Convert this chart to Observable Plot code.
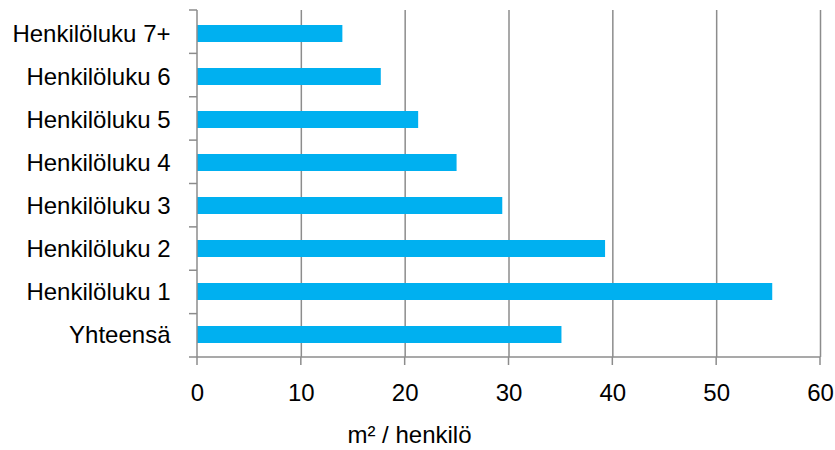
<!DOCTYPE html>
<html><head><meta charset="utf-8">
<script src="https://cdn.jsdelivr.net/npm/d3@7"></script>
<script src="https://cdn.jsdelivr.net/npm/@observablehq/plot@0.6"></script>
<style>body{margin:0;background:#fff;} svg{display:block;}</style>
</head><body><div id="chart"></div>
<script>
const categories = ["Henkilöluku 7+","Henkilöluku 6","Henkilöluku 5","Henkilöluku 4","Henkilöluku 3","Henkilöluku 2","Henkilöluku 1","Yhteensä"];
const values = [14.0, 17.7, 21.3, 25.0, 29.4, 39.3, 55.4, 35.1];
const xTicks = [0, 10, 20, 30, 40, 50, 60];
const xLabel = "m² / henkilö";

const data = categories.map((c, i) => ({category: c, value: values[i]}));
const gray = "#8c8c8c";

const frame = (index, scales, vals, dims) => {
  const {width, height, marginLeft, marginRight, marginTop, marginBottom} = dims;
  const x0 = scales.x(0), top = marginTop, bottom = height - marginBottom;
  const g = d3.create("svg:g").attr("stroke", gray).attr("stroke-width", 1.5).attr("fill", "none");
  g.append("line").attr("x1", x0).attr("x2", x0).attr("y1", top).attr("y2", bottom);
  g.append("line").attr("x1", x0).attr("x2", scales.x(60)).attr("y1", bottom).attr("y2", bottom);
  const n = categories.length, bw = (bottom - top) / n;
  for (let i = 0; i <= n; i++) {
    const y = top + i * bw;
    g.append("line").attr("x1", x0 - 8).attr("x2", x0).attr("y1", y).attr("y2", y);
  }
  for (const t of xTicks) {
    const x = scales.x(t);
    g.append("line").attr("x1", x).attr("x2", x).attr("y1", bottom).attr("y2", bottom + 8);
  }
  g.append("text").attr("x", width / 2 - 8).attr("y", height - 7)
    .attr("text-anchor", "middle").attr("fill", "#000").attr("stroke", "none")
    .attr("font-size", 24).text(xLabel);
  return g.node();
};

const chart = Plot.plot({
  width: 835, height: 450,
  marginLeft: 197, marginRight: 15, marginTop: 10, marginBottom: 93,
  style: {fontFamily: "Liberation Sans, Arial, sans-serif", fontSize: "24px", color: "#000", background: "#fff"},
  x: {domain: [0, 60], ticks: xTicks, label: null},
  y: {domain: categories, padding: 0, label: null},
  marks: [
    Plot.ruleX(xTicks.filter(t => t > 0), {stroke: gray, strokeWidth: 1.5}),
    Plot.barX(data, {y: "category", x: "value", fill: "#00B0F0", insetTop: 13, insetBottom: 13}),
    Plot.axisX(xTicks, {tickSize: 0, tickPadding: 26, fontSize: 24, fill: "#000", label: null}),
    Plot.axisY({tickSize: 0, tickPadding: 27, fontSize: 24, fill: "#000", label: null}),
    frame
  ]
});
document.getElementById("chart").appendChild(chart);
</script></body></html>
